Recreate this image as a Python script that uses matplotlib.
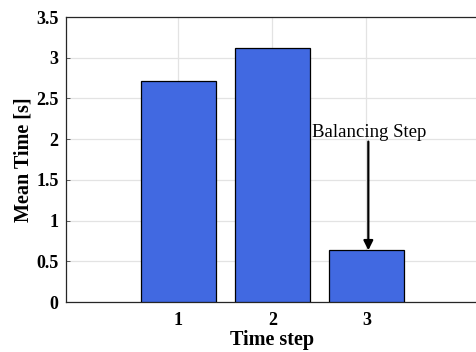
import matplotlib
matplotlib.use("Agg")
import matplotlib.pyplot as plt
import numpy as np

steps = [1, 2, 3]
mean_time = [2.72, 3.115, 0.635]
yticks = [0, 0.5, 1, 1.5, 2, 2.5, 3, 3.5]
ytick_labels = ["0", "0.5", "1", "1.5", "2", "2.5", "3", "3.5"]

plt.rcParams['font.family'] = ['Liberation Serif', 'DejaVu Serif']

fig = plt.figure(figsize=(4.77, 3.52), dpi=100)
ax = fig.add_axes([0.1377, 0.142, 0.867, 0.8097])

ax.bar(steps, mean_time, width=0.8, color="#4169e1", edgecolor="black", linewidth=0.9, zorder=3)

ax.set_xlim(-0.2, 4.2)
ax.set_ylim(0, 3.5)
ax.set_xticks(steps)
ax.set_xticklabels([str(s) for s in steps], fontweight="bold", fontsize=13)
ax.set_yticks(yticks)
ax.set_yticklabels(ytick_labels, fontweight="bold", fontsize=13)
ax.tick_params(axis="x", direction="in", length=3, width=0.6, color="#444444", pad=7)
ax.tick_params(axis="y", direction="in", length=3, width=0.6, color="#444444", pad=5)
ax.grid(True, color="#e3e3e3", linewidth=0.9, zorder=0)
ax.set_axisbelow(True)
for s in ax.spines.values():
    s.set_linewidth(0.9)
    s.set_color("#262626")

ax.set_xlabel("Time step", fontweight="bold", fontsize=14.5, labelpad=1)
ax.set_ylabel("Mean Time [s]", fontweight="bold", fontsize=14.5, labelpad=2)

# annotation text and vertical arrow
ax.text(3.03, 2.08, "Balancing Step", ha="center", va="center", fontsize=13.5)
ax.annotate("", xy=(3.02, mean_time[2]), xytext=(3.02, 1.97),
            arrowprops=dict(arrowstyle="-|>", color="black", lw=1.6,
                            mutation_scale=14, shrinkA=0, shrinkB=0))

fig.savefig("out.png", dpi=100)
